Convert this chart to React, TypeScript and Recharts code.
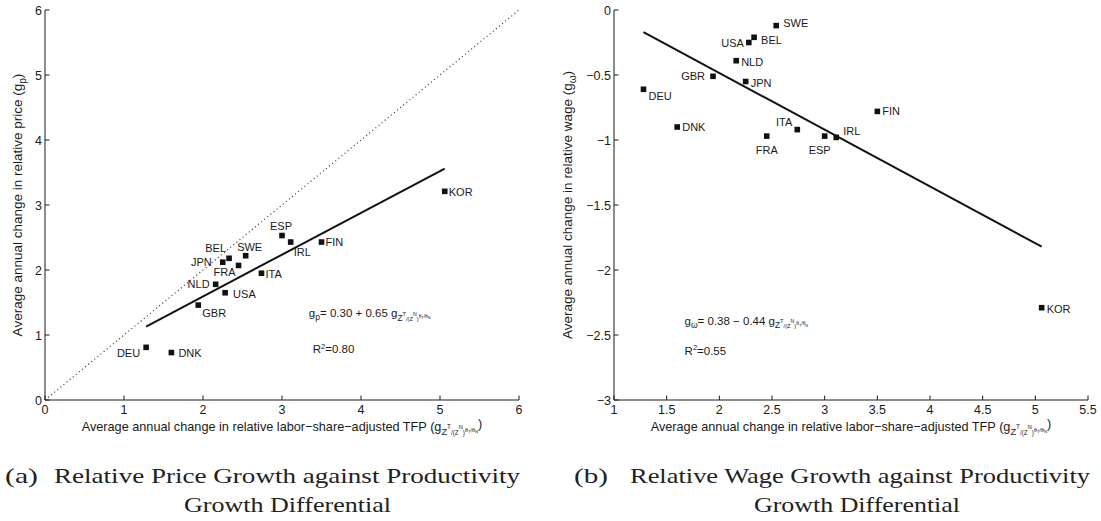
import React from 'react';
import { ScatterChart, Scatter, XAxis, YAxis, Label } from 'recharts';

// the figure is laid out in page pixels, so drop the default body margin
if (typeof document !== 'undefined') document.body.style.margin = '0';

// country order shared by both panels
const countries = ['DEU', 'DNK', 'GBR', 'NLD', 'USA', 'JPN', 'BEL', 'FRA', 'SWE', 'ITA', 'ESP', 'IRL', 'FIN', 'KOR'];
const tfpGrowth = [1.28, 1.6, 1.94, 2.16, 2.28, 2.25, 2.33, 2.45, 2.54, 2.74, 3.0, 3.11, 3.5, 5.06];
const priceGrowth = [0.81, 0.73, 1.46, 1.78, 1.65, 2.12, 2.18, 2.07, 2.22, 1.95, 2.53, 2.43, 2.43, 3.21];
const wageGrowth = [-0.61, -0.9, -0.51, -0.39, -0.25, -0.55, -0.21, -0.97, -0.12, -0.92, -0.97, -0.98, -0.78, -2.29];

const fitX = [1.28, 5.06];
const priceFitY = [1.13, 3.56];
const wageFitY = [-0.17, -1.82];
const diagonal = [0, 6];

const priceTicksX = [0, 1, 2, 3, 4, 5, 6];
const priceTicksY = [0, 1, 2, 3, 4, 5, 6];
const wageTicksX = [1, 1.5, 2, 2.5, 3, 3.5, 4, 4.5, 5, 5.5];
const wageTicksY = [0, -0.5, -1, -1.5, -2, -2.5, -3];

// where the equation text sits, in data units
const priceEqPos = [3.34, 1.27];
const priceR2Pos = [3.39, 0.72];
const wageEqPos = [1.67, -2.42];
const wageR2Pos = [1.67, -2.65];

// label placement next to each marker: [anchor, dx, dy]
const priceLabelPos: Record<string, [string, number, number]> = {
  DEU: ['end', -6, 6], DNK: ['start', 7, 0], GBR: ['start', 4, 8], NLD: ['end', -6, 0],
  USA: ['start', 8, 1], JPN: ['end', -11, 0], BEL: ['end', -3, -10], FRA: ['end', -3, 7],
  SWE: ['middle', 4, -9], ITA: ['start', 4, 1], ESP: ['middle', -1, -10], IRL: ['start', 3, 10],
  FIN: ['start', 4, 0], KOR: ['start', 4, 1],
};
const wageLabelPos: Record<string, [string, number, number]> = {
  SWE: ['start', 7, -3], BEL: ['start', 7, 3], USA: ['end', -5, 0], NLD: ['start', 5, 1],
  GBR: ['end', -8, 0], JPN: ['start', 5, 1], DEU: ['start', 5, 7], FIN: ['start', 5, 0],
  DNK: ['start', 5, 0], ITA: ['end', -5, -8], FRA: ['middle', 0, 14], ESP: ['middle', -5, 14],
  IRL: ['start', 7, -6], KOR: ['start', 5, 1],
};

const FONT = '"Liberation Sans", Arial, Helvetica, sans-serif';
const INK = '#1a1a1a';

const toPts = (xs: number[], ys: number[]) => xs.map((x, i) => ({ x, y: ys[i], name: countries[i] }));
const fmt = (v: number) => String(v).replace('-', '\u2212');

const XTick = (props: any) => {
  const { x, y, payload } = props;
  return (
    <g>
      <line x1={x} y1={y} x2={x} y2={y - 4.5} stroke={INK} strokeWidth={1} />
      <text x={x} y={y + 14} textAnchor="middle" fontSize={12.5} fontFamily={FONT} fill={INK}>
        {fmt(payload.value)}
      </text>
    </g>
  );
};

const YTick = (props: any) => {
  const { x, y, payload } = props;
  return (
    <g>
      <line x1={x} y1={y} x2={x + 4.5} y2={y} stroke={INK} strokeWidth={1} />
      <text x={x - 3} y={y + 4.5} textAnchor="end" fontSize={12.5} fontFamily={FONT} fill={INK}>
        {fmt(payload.value)}
      </text>
    </g>
  );
};

// g_{Z^T/(Z^N)^{θT/θN}} tail, shared by axis label and equations
const TfpSub = ({ s }: { s: number }) => (
  <>
    <tspan fontSize={s * 0.72} dy={s * 0.3}>Z</tspan>
    <tspan fontSize={s * 0.5} dy={-s * 0.42}>T</tspan>
    <tspan fontSize={s * 0.5} dy={s * 0.42}>/(Z</tspan>
    <tspan fontSize={s * 0.45} dy={-s * 0.42}>N</tspan>
    <tspan fontSize={s * 0.5} dy={s * 0.42}>)</tspan>
    <tspan fontSize={s * 0.42} dy={-s * 0.25}>θ</tspan>
    <tspan fontSize={s * 0.34} dy={s * 0.12}>T</tspan>
    <tspan fontSize={s * 0.42} dy={-s * 0.12}>/θ</tspan>
    <tspan fontSize={s * 0.34} dy={s * 0.12}>N</tspan>
  </>
);

const xAxisLabel = (props: any) => {
  const { viewBox } = props;
  const cx = viewBox.x + viewBox.width / 2;
  return (
    <text x={cx} y={viewBox.y + 31} textAnchor="middle" fontSize={12.7} fontFamily={FONT} fill={INK}>
      Average annual change in relative labor−share−adjusted TFP (g
      <TfpSub s={12.7} />
      <tspan fontSize={12.7} dy={-12.7 * 0.42}>)</tspan>
    </text>
  );
};

const yAxisLabel = (sub: string, word: string) => (props: any) => {
  const { viewBox } = props;
  const cy = viewBox.y + viewBox.height / 2;
  const x = 22;
  return (
    <text
      x={x}
      y={cy}
      transform={`rotate(-90, ${x}, ${cy})`}
      textAnchor="middle"
      fontSize={13.5}
      fontFamily={FONT}
      fill={INK}
    >
      Average annual change in relative {word} (g
      <tspan fontSize={10} dy={3.5}>{sub}</tspan>
      <tspan fontSize={13.5} dy={-3.5}>)</tspan>
    </text>
  );
};

const markerShape = (pos: Record<string, [string, number, number]>) => (props: any) => {
  const { cx, cy } = props;
  const name = props.payload?.name ?? props.name;
  const [anchor, dx, dy] = pos[name];
  return (
    <g>
      <rect x={cx - 2.8} y={cy - 2.8} width={5.6} height={5.6} fill="#111" />
      <text
        x={cx + dx}
        y={cy + dy}
        textAnchor={anchor as any}
        dominantBaseline="central"
        fontSize={11}
        fontFamily={FONT}
        fill={INK}
      >
        {name}
      </text>
    </g>
  );
};

const noDot = () => <g />;

const equationShape = (sub: string, body: string) => (props: any) => (
  <text x={props.cx} y={props.cy} fontSize={11.5} fontFamily={FONT} fill={INK}>
    g<tspan fontSize={8.5} dy={3}>{sub}</tspan>
    <tspan fontSize={11.5} dy={-3}>{body}</tspan>
    <TfpSub s={11.5} />
  </text>
);

const r2Shape = (value: string) => (props: any) => (
  <text x={props.cx} y={props.cy} fontSize={11.5} fontFamily={FONT} fill={INK}>
    R<tspan fontSize={7.5} dy={-4.5}>2</tspan>
    <tspan fontSize={11.5} dy={4.5}>={value}</tspan>
  </text>
);

const axisLine = { stroke: INK, strokeWidth: 1 };

function PricePanel() {
  return (
    <ScatterChart width={545} height={440} margin={{ top: 10, right: 26, bottom: 10, left: 0 }}>
      <XAxis
        dataKey="x"
        type="number"
        domain={[0, 6]}
        ticks={priceTicksX}
        interval={0}
        tick={<XTick />}
        tickLine={false}
        tickSize={0}
        tickMargin={0}
        axisLine={axisLine}
        height={30}
      >
        <Label content={xAxisLabel} />
      </XAxis>
      <YAxis
        dataKey="y"
        type="number"
        domain={[0, 6]}
        ticks={priceTicksY}
        interval={0}
        tick={<YTick />}
        tickLine={false}
        tickSize={0}
        tickMargin={0}
        axisLine={axisLine}
        width={45}
      >
        <Label content={yAxisLabel('p', 'price')} />
      </YAxis>
      <Scatter
        data={toPts(diagonal, diagonal)}
        shape={noDot}
        line={{ stroke: '#333', strokeWidth: 1.2, strokeDasharray: '1 3' }}
        isAnimationActive={false}
      />
      <Scatter
        data={toPts(fitX, priceFitY)}
        shape={noDot}
        line={{ stroke: '#111', strokeWidth: 2 }}
        isAnimationActive={false}
      />
      <Scatter data={toPts(tfpGrowth, priceGrowth)} shape={markerShape(priceLabelPos)} isAnimationActive={false} />
      <Scatter
        data={[{ x: priceEqPos[0], y: priceEqPos[1] }]}
        shape={equationShape('p', '= 0.30 + 0.65 g')}
        isAnimationActive={false}
      />
      <Scatter data={[{ x: priceR2Pos[0], y: priceR2Pos[1] }]} shape={r2Shape('0.80')} isAnimationActive={false} />
    </ScatterChart>
  );
}

function WagePanel() {
  return (
    <ScatterChart width={551} height={440} margin={{ top: 10, right: 13, bottom: 10, left: 0 }}>
      <XAxis
        dataKey="x"
        type="number"
        domain={[1, 5.5]}
        ticks={wageTicksX}
        interval={0}
        tick={<XTick />}
        tickLine={false}
        tickSize={0}
        tickMargin={0}
        axisLine={axisLine}
        height={30}
      >
        <Label content={xAxisLabel} />
      </XAxis>
      <YAxis
        dataKey="y"
        type="number"
        domain={[-3, 0]}
        ticks={wageTicksY}
        interval={0}
        tick={<YTick />}
        tickLine={false}
        tickSize={0}
        tickMargin={0}
        axisLine={axisLine}
        width={64}
      >
        <Label content={yAxisLabel('ω', 'wage')} />
      </YAxis>
      <Scatter
        data={toPts(fitX, wageFitY)}
        shape={noDot}
        line={{ stroke: '#111', strokeWidth: 2 }}
        isAnimationActive={false}
      />
      <Scatter data={toPts(tfpGrowth, wageGrowth)} shape={markerShape(wageLabelPos)} isAnimationActive={false} />
      <Scatter
        data={[{ x: wageEqPos[0], y: wageEqPos[1] }]}
        shape={equationShape('ω', '= 0.38 \u2212 0.44 g')}
        isAnimationActive={false}
      />
      <Scatter data={[{ x: wageR2Pos[0], y: wageR2Pos[1] }]} shape={r2Shape('0.55')} isAnimationActive={false} />
    </ScatterChart>
  );
}

const CAP = '"Liberation Serif", "Times New Roman", serif';

export default function App() {
  return (
    <div style={{ position: 'relative', width: 1101, height: 521, overflow: 'hidden' }}>
      <div style={{ position: 'absolute', left: 0, top: 0 }}>
        <PricePanel />
      </div>
      <div style={{ position: 'absolute', left: 550, top: 0 }}>
        <WagePanel />
      </div>
      <svg width={1101} height={521} style={{ position: 'absolute', left: 0, top: 0, pointerEvents: 'none' }}>
        <g fontFamily={CAP} fontSize={22} fill="#222">
          <text x={5} y={483} textLength={33} lengthAdjust="spacingAndGlyphs">(a)</text>
          <text x={54} y={483} textLength={466} lengthAdjust="spacingAndGlyphs">
            Relative Price Growth against Productivity
          </text>
          <text x={184} y={512} textLength={207} lengthAdjust="spacingAndGlyphs">
            Growth Differential
          </text>
          <text x={574} y={483} textLength={34} lengthAdjust="spacingAndGlyphs">(b)</text>
          <text x={630} y={483} textLength={460} lengthAdjust="spacingAndGlyphs">
            Relative Wage Growth against Productivity
          </text>
          <text x={754} y={512} textLength={206} lengthAdjust="spacingAndGlyphs">
            Growth Differential
          </text>
        </g>
      </svg>
    </div>
  );
}
